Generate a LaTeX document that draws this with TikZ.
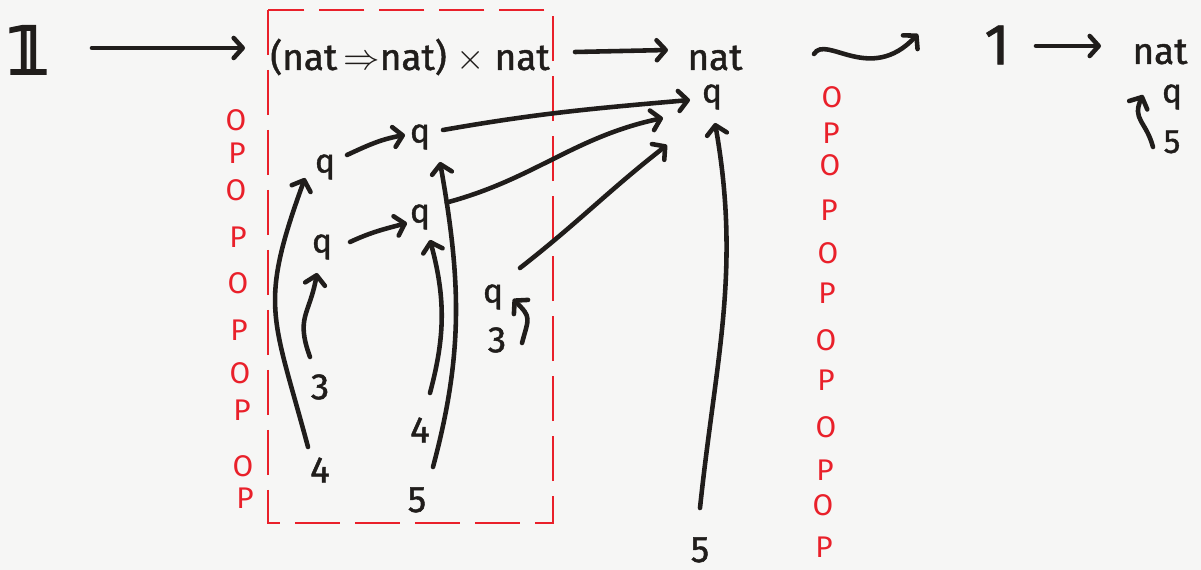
\documentclass[tikz,border=0pt]{standalone}
\usepackage{fontspec}
\setmainfont{Fira Sans}
\newfontfamily\marker[FakeBold=1.2]{Fira Sans}
\newfontfamily\dvfont[FakeBold=4]{DejaVu Sans}
\usetikzlibrary{arrows.meta}
\definecolor{redpen}{RGB}{233,32,42}
\definecolor{inkc}{RGB}{32,29,27}
\definecolor{paper}{RGB}{246,246,245}
\begin{document}
\begin{tikzpicture}[x=0.02cm,y=0.02cm,
  conn/.style={draw=inkc,line width=2.6pt,line cap=round,-{Straight Barb[length=1.8mm,width=4mm,round]}},
  lbl/.style={text=inkc,inner sep=1pt,font=\marker\fontsize{21}{21}\selectfont},
  qlbl/.style={text=inkc,inner sep=1pt,font=\marker\fontsize{19}{19}\selectfont},
  oplbl/.style={text=redpen,inner sep=0pt,font=\fontsize{17}{17}\selectfont},
  boxline/.style={draw=redpen,line width=0.9pt,dash pattern=on 0.9cm off 0.3cm}]
\fill[paper] (0,0) rectangle (1201,-570);
\useasboundingbox (0,0) rectangle (1201,-570);

% top row
\node[lbl,font=\dvfont\fontsize{37}{37}\selectfont] (one) at (28,-50) {𝟙};
\node[lbl] (prod) at (410,-57) {(nat\,$\Rightarrow$nat) $\times$ nat};
\node[lbl] (nat1) at (715,-58) {nat};
\node[lbl,font=\marker\fontsize{33}{33}\selectfont] (one2) at (997,-45) {1};
\node[lbl] (nat2) at (1160,-52) {nat};

% moves
\node[qlbl] (qa) at (712,-97) {q};
\node[qlbl] (qb) at (420,-137) {q};
\node[qlbl] (qc) at (325,-167) {q};
\node[qlbl] (qd) at (420,-217) {q};
\node[qlbl] (qe) at (322,-247) {q};
\node[lbl] (th1) at (320,-387) {3};
\node[lbl] (fo1) at (320,-470) {4};
\node[lbl] (fo2) at (420,-430) {4};
\node[lbl] (fi1) at (417,-500) {5};
\node[qlbl] (qf) at (493,-297) {q};
\node[lbl] (th2) at (497,-340) {3};
\node[lbl] (fi2) at (700,-550) {5};
\node[qlbl] (qg) at (1172,-97) {q};
\node[qlbl] (fi3) at (1172,-142) {5};

% red box
\draw[boxline] (268,-10) rectangle (553,-523);

% O/P columns
\foreach \x/\y/\t [count=\i] in {236/120/O,237/153/P,236/190/O,238/237/P,238/283/O,239/330/P,240/373/O,242/410/P,243/466/O,245/498/P}
  \node[oplbl] (l\i) at (\x,-\y) {\t};
\foreach \x/\y/\t [count=\i] in {832/97/O,831/133/P,830/165/O,829/210/P,828/253/O,827/293/P,826/340/O,826/380/P,826/427/O,825/470/P,823/505/O,824/547/P}
  \node[oplbl] (r\i) at (\x,-\y) {\t};

% top arrows
\draw[conn] ([shift={(64,2)}]one.center) -- ([shift={(-165,9)}]prod.center);
\draw[conn] ([shift={(165,5)}]prod.center) -- ([shift={(-47,8)}]nat1.center);
\draw[conn] ([shift={(99,4)}]nat1.center) .. controls +(12,20) and +(-48,-51) .. ([shift={(-79,11)}]one2.center);
\draw[conn] ([shift={(39,-1)}]one2.center) -- ([shift={(-59,6)}]nat2.center);

% justification pointers
\draw[conn] ([shift={(-12,23)}]fo1.center) to[out=105,in=-110,looseness=1.3] ([shift={(-20,-11)}]qc.center);
\draw[conn] ([shift={(-10,30)}]th1.center) to[out=110,in=-100,looseness=1.3] ([shift={(-5,-26)}]qe.center);
\draw[conn] ([shift={(22,12)}]qc.center) to[out=25,in=190] ([shift={(-15,2)}]qb.center);
\draw[conn] ([shift={(28,5)}]qe.center) to[out=25,in=195] ([shift={(-13,-6)}]qd.center);
\draw[conn] ([shift={(10,37)}]fo2.center) to[out=75,in=-75] ([shift={(10,-23)}]qd.center);
\draw[conn] ([shift={(16,33)}]fi1.center) to[out=75,in=-80] coordinate[pos=0.88] (br) ([shift={(20,-25)}]qb.center);
\draw[conn] (br) to[out=15,in=192] ([shift={(-49,-21)}]qa.center);
\draw[conn] ([shift={(23,7)}]qb.center) to[out=10,in=185] ([shift={(-22,-3)}]qa.center);
\draw[conn] ([shift={(27,29)}]qf.center) to[out=38,in=-142] ([shift={(-45,-48)}]qa.center);
\draw[conn] ([shift={(25,-3)}]th2.center) to[out=75,in=-45,looseness=1.5] ([shift={(20,-2)}]qf.center);
\draw[conn] ([shift={(0,42)}]fi2.center) to[out=84,in=-80] ([shift={(3,-26)}]qa.center);
\draw[conn] ([shift={(-19,-5)}]fi3.center) to[out=105,in=-115,looseness=1.3] ([shift={(-29,2)}]qg.center);
\end{tikzpicture}
\end{document}
